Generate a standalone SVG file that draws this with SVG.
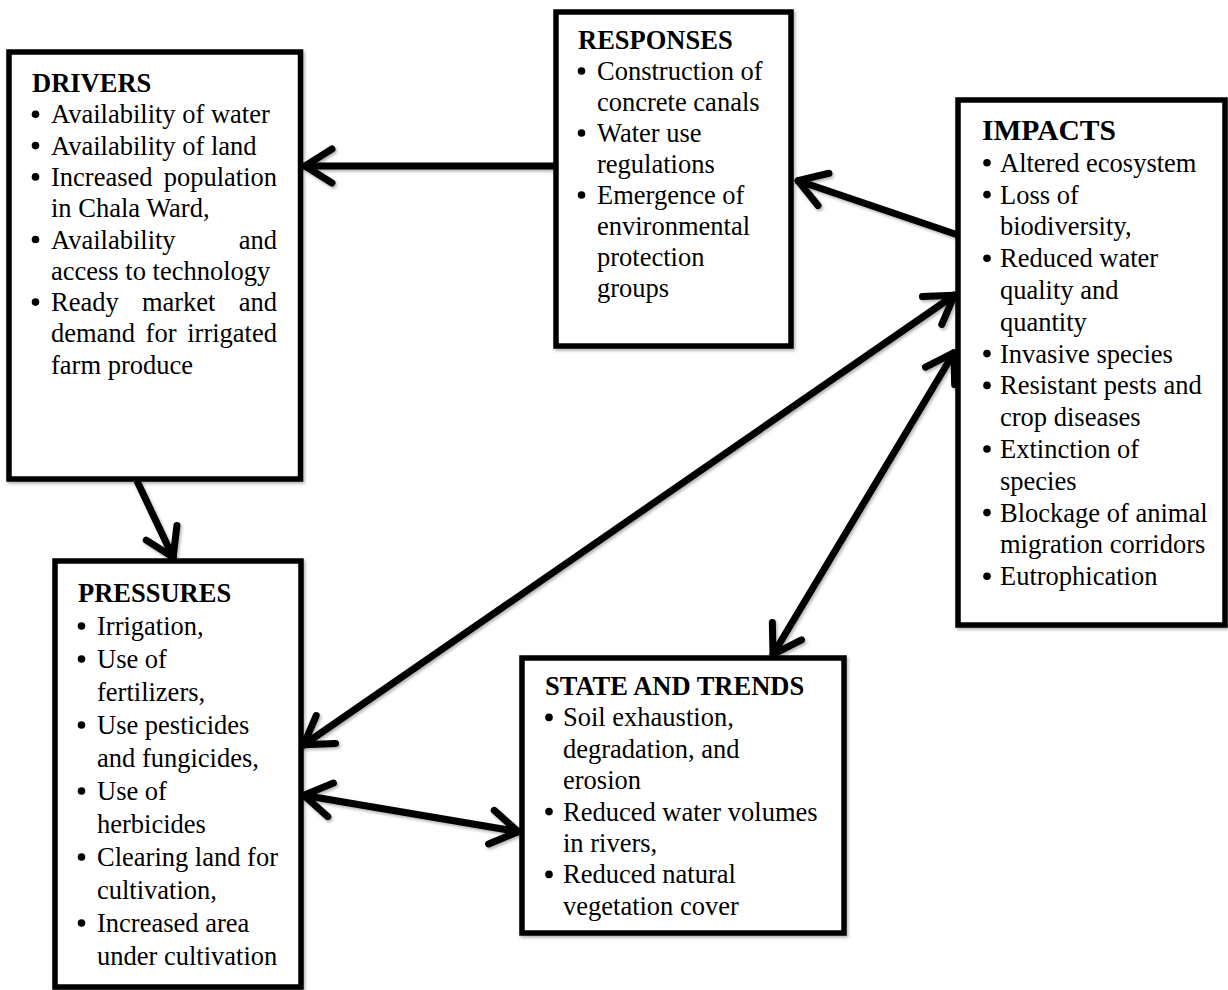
<svg xmlns="http://www.w3.org/2000/svg" width="1228" height="990" viewBox="0 0 1228 990">
<style>
.t{font-family:"Liberation Serif","Times New Roman",serif;font-size:26.5px;fill:#000}
.h{font-weight:bold}
.e{text-anchor:end}
.bl{fill:#000}
.box{fill:#fff;stroke:#000;stroke-width:5.5}
.conn{stroke:#000;stroke-width:7;fill:none}
</style>
<defs>
<filter id="sh" x="-10%" y="-10%" width="120%" height="120%">
<feDropShadow dx="1.5" dy="2" stdDeviation="1.5" flood-color="#000" flood-opacity="0.3"/>
</filter>
<marker id="arr" viewBox="-44 -26 56 52" refX="0" refY="0" markerWidth="56" markerHeight="52" markerUnits="userSpaceOnUse" orient="auto-start-reverse">
<path d="M-29,-17 L-2,0 L-29,17" fill="none" stroke="#000" stroke-width="7" stroke-linecap="round" stroke-linejoin="round"/>
</marker>
</defs>
<rect width="1228" height="990" fill="#fff"/>

<g id="connectors" filter="url(#sh)">
<path class="conn" d="M556,166 L303,166" marker-end="url(#arr)"/>
<path class="conn" d="M958,235 L796,180" marker-end="url(#arr)"/>
<path class="conn" d="M302,746 L956,294" marker-start="url(#arr)" marker-end="url(#arr)"/>
<path class="conn" d="M302,795 L520,832" marker-start="url(#arr)" marker-end="url(#arr)"/>
<path class="conn" d="M955,351 L772,656" marker-start="url(#arr)" marker-end="url(#arr)"/>
<path class="conn" d="M137,481 L174,559" marker-end="url(#arr)"/>
</g>

<g id="drivers">
<rect class="box" x="9" y="52" width="291.5" height="427" filter="url(#sh)"/>
<text class="t h" x="32" y="92">DRIVERS</text>
<circle class="bl" cx="35.5" cy="114.3" r="3.8"/><text class="t" x="51" y="123.3">Availability of water</text>
<circle class="bl" cx="35.5" cy="145.6" r="3.8"/><text class="t" x="51" y="154.6">Availability of land</text>
<circle class="bl" cx="35.5" cy="176.9" r="3.8"/><text class="t" x="51" y="185.9">Increased</text><text class="t e" x="277" y="185.9">population</text>
<text class="t" x="51" y="217.2">in Chala Ward,</text>
<circle class="bl" cx="35.5" cy="239.5" r="3.8"/><text class="t" x="51" y="248.5">Availability</text><text class="t e" x="277" y="248.5">and</text>
<text class="t" x="51" y="279.8">access to technology</text>
<circle class="bl" cx="35.5" cy="302.1" r="3.8"/><text class="t" x="51" y="311.1">Ready</text><text class="t" x="141.9" y="311.1">market</text><text class="t e" x="277" y="311.1">and</text>
<text class="t" x="51" y="342.4">demand</text><text class="t" x="145.6" y="342.4">for</text><text class="t e" x="277" y="342.4">irrigated</text>
<text class="t" x="51" y="373.7">farm produce</text>
</g>

<g id="responses">
<rect class="box" x="556" y="12" width="235" height="334" filter="url(#sh)"/>
<text class="t h" x="578" y="49">RESPONSES</text>
<circle class="bl" cx="581.5" cy="71" r="3.8"/><text class="t" x="597" y="80">Construction of</text>
<text class="t" x="597" y="111">concrete canals</text>
<circle class="bl" cx="581.5" cy="133" r="3.8"/><text class="t" x="597" y="142">Water use</text>
<text class="t" x="597" y="173">regulations</text>
<circle class="bl" cx="581.5" cy="195" r="3.8"/><text class="t" x="597" y="204">Emergence of</text>
<text class="t" x="597" y="235">environmental</text>
<text class="t" x="597" y="266">protection</text>
<text class="t" x="597" y="297">groups</text>
</g>

<g id="impacts">
<rect class="box" x="958" y="100" width="267" height="525" filter="url(#sh)"/>
<text class="t h" x="982" y="140" style="font-size:29.5px">IMPACTS</text>
<circle class="bl" cx="987" cy="162.8" r="3.8"/><text class="t" x="1000" y="171.8">Altered ecosystem</text>
<circle class="bl" cx="987" cy="194.6" r="3.8"/><text class="t" x="1000" y="203.6">Loss of</text>
<text class="t" x="1000" y="235.4">biodiversity,</text>
<circle class="bl" cx="987" cy="258.2" r="3.8"/><text class="t" x="1000" y="267.2">Reduced water</text>
<text class="t" x="1000" y="299">quality and</text>
<text class="t" x="1000" y="330.8">quantity</text>
<circle class="bl" cx="987" cy="353.6" r="3.8"/><text class="t" x="1000" y="362.6">Invasive species</text>
<circle class="bl" cx="987" cy="385.4" r="3.8"/><text class="t" x="1000" y="394.4">Resistant pests and</text>
<text class="t" x="1000" y="426.2">crop diseases</text>
<circle class="bl" cx="987" cy="449" r="3.8"/><text class="t" x="1000" y="458">Extinction of</text>
<text class="t" x="1000" y="489.8">species</text>
<circle class="bl" cx="987" cy="512.6" r="3.8"/><text class="t" x="1000" y="521.6">Blockage of animal</text>
<text class="t" x="1000" y="553.4">migration corridors</text>
<circle class="bl" cx="987" cy="576.2" r="3.8"/><text class="t" x="1000" y="585.2">Eutrophication</text>
</g>

<g id="pressures">
<rect class="box" x="55" y="561" width="246" height="426" filter="url(#sh)"/>
<text class="t h" x="78" y="602">PRESSURES</text>
<circle class="bl" cx="81.5" cy="626" r="3.8"/><text class="t" x="97" y="635">Irrigation,</text>
<circle class="bl" cx="81.5" cy="659" r="3.8"/><text class="t" x="97" y="668">Use of</text>
<text class="t" x="97" y="701">fertilizers,</text>
<circle class="bl" cx="81.5" cy="725" r="3.8"/><text class="t" x="97" y="734">Use pesticides</text>
<text class="t" x="97" y="767">and fungicides,</text>
<circle class="bl" cx="81.5" cy="791" r="3.8"/><text class="t" x="97" y="800">Use of</text>
<text class="t" x="97" y="833">herbicides</text>
<circle class="bl" cx="81.5" cy="857" r="3.8"/><text class="t" x="97" y="866">Clearing land for</text>
<text class="t" x="97" y="899">cultivation,</text>
<circle class="bl" cx="81.5" cy="923" r="3.8"/><text class="t" x="97" y="932">Increased area</text>
<text class="t" x="97" y="965">under cultivation</text>
</g>

<g id="state">
<rect class="box" x="522" y="658" width="322" height="275" filter="url(#sh)"/>
<text class="t h" x="545" y="695">STATE AND TRENDS</text>
<circle class="bl" cx="549" cy="717.4" r="3.8"/><text class="t" x="563" y="726.4">Soil exhaustion,</text>
<text class="t" x="563" y="757.8">degradation, and</text>
<text class="t" x="563" y="789.2">erosion</text>
<circle class="bl" cx="549" cy="811.6" r="3.8"/><text class="t" x="563" y="820.6">Reduced water volumes</text>
<text class="t" x="563" y="852">in rivers,</text>
<circle class="bl" cx="549" cy="874.4" r="3.8"/><text class="t" x="563" y="883.4">Reduced natural</text>
<text class="t" x="563" y="914.8">vegetation cover</text>
</g>
</svg>
